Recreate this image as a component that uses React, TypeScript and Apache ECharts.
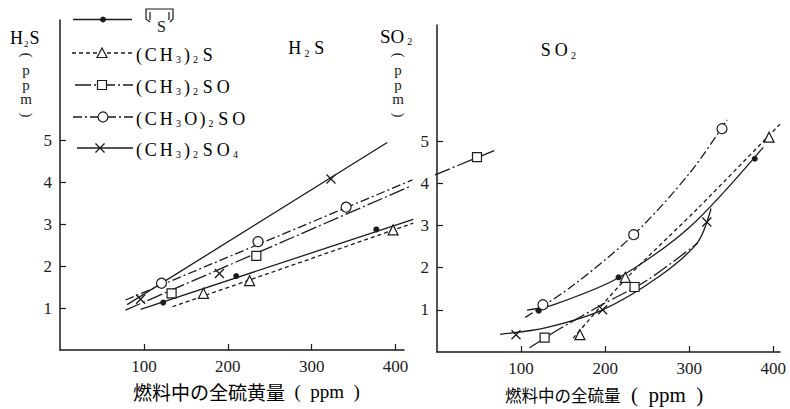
import { useEffect, useRef } from "react";
import * as echarts from "echarts";

const INK = "#1b1b1b";
const SERIF = "'Liberation Serif', 'DejaVu Serif', 'Times New Roman', serif";
const CJK = "'Noto Sans CJK JP', 'Noto Sans CJK SC', sans-serif";

// ---- tick labels / texts ----
const X_TICKS = [100, 200, 300, 400];
const Y_TICKS = [1, 2, 3, 4, 5];
const LEGEND_NAMES = ["S", "(CH_3)_2S", "(CH_3)_2SO", "(CH_3O)_2SO", "(CH_3)_2SO_4"];
const PANEL_TITLES = ["H_2S", "SO_2"];
const Y_NAMES = ["H_2S", "SO_2"];
const X_NAMES = ["燃料中の全硫黄量", "燃料中の全硫量"];
const UNIT = "ppm";

// ---- H2S panel: measured points ----
const H2S_PTS_THIOPHENE = [[123, 1.13], [210, 1.76], [377, 2.87]];
const H2S_PTS_DMS = [[171, 1.35], [226, 1.65], [397, 2.86]];
const H2S_PTS_DMSO = [[133, 1.35], [234, 2.24], [497, 4.59]];
const H2S_PTS_DMSI = [[121, 1.59], [236, 2.58], [341, 3.4]];
const H2S_PTS_DMSA = [[96, 1.21], [190, 1.82], [323, 4.07]];

// ---- H2S panel: fitted lines ----
const H2S_FIT_THIOPHENE = [[96, 0.97], [421, 3.11]];
const H2S_FIT_DMS = [[134, 1.03], [421, 3.02]];
const H2S_FIT_DMSO = [[78, 0.95], [419, 3.91]];
const H2S_FIT_DMSO_EXT = [[447, 4.17], [519, 4.76]];
const H2S_FIT_DMSI = [[78, 1.19], [420, 4.05]];
const H2S_FIT_DMSA = [[80, 1.08], [390, 4.94]];

// ---- SO2 panel: measured points ----
const SO2_PTS_THIOPHENE = [[121, 0.98], [216, 1.77], [378, 4.58]];
const SO2_PTS_DMS = [[170, 0.41], [224, 1.77], [395, 5.09]];
const SO2_PTS_DMSO = [[128, 0.34], [235, 1.54]];
const SO2_PTS_DMSI = [[126, 1.12], [234, 2.78], [339, 5.29]];
const SO2_PTS_DMSA = [[94, 0.41], [197, 1.0], [321, 3.08]];

// ---- SO2 panel: fitted curves ----
const SO2_FIT_THIOPHENE = [[107, 0.99], [140, 1.13], [216, 1.76], [300, 2.95], [388, 4.85]];
const SO2_FIT_DMS = [[162, 0.33], [224, 1.72], [310, 3.4], [408, 5.4]];
const SO2_FIT_DMSO = [[110, 0.1], [146, 0.55], [198, 1.14], [250, 1.7], [310, 2.58]];
const SO2_FIT_DMSI = [[105, 0.82], [160, 1.55], [234, 2.78], [301, 4.25], [345, 5.5]];
const SO2_FIT_DMSA = [[75, 0.42], [130, 0.58], [197, 1.0], [265, 1.8], [310, 2.6], [326, 3.4]];

const STYLES: any[] = [
  { symbol: "circle", size: 6, fill: INK, border: 0, dash: "solid" },
  { symbol: "triangle", size: 10, fill: "#fff", border: 1.2, dash: [4, 3] },
  { symbol: "rect", size: 9, fill: "#fff", border: 1.2, dash: [16, 3, 2, 3] },
  { symbol: "circle", size: 10, fill: "#fff", border: 1.2, dash: [9, 3, 2, 3] },
  { symbol: "path://M0,0L10,10M10,0L0,10", size: 9, fill: "transparent", border: 1.3, dash: "solid" },
];

const RICH_SPACED = {
  c: { fontFamily: SERIF, fontSize: 18, width: 15.5, align: "center", lineHeight: 20, color: INK },
  p: { fontFamily: SERIF, fontSize: 18, width: 8, align: "center", lineHeight: 20, color: INK },
  s: { fontFamily: SERIF, fontSize: 10, width: 9, align: "center", lineHeight: 11, verticalAlign: "bottom", color: INK },
};
const RICH_PLAIN = {
  c: { fontFamily: SERIF, fontSize: 19, lineHeight: 20, color: INK },
  p: { fontFamily: SERIF, fontSize: 19, lineHeight: 20, color: INK },
  s: { fontFamily: SERIF, fontSize: 10, lineHeight: 11, verticalAlign: "bottom", padding: [0, 2, 0, 3], color: INK },
};
const RICH_PLAIN_TIGHT = {
  c: { fontFamily: SERIF, fontSize: 18, lineHeight: 20, color: INK },
  p: { fontFamily: SERIF, fontSize: 18, lineHeight: 20, color: INK },
  s: { fontFamily: SERIF, fontSize: 9, lineHeight: 11, verticalAlign: "bottom", padding: [0, 1, 0, 1], color: INK },
};

// left panel scale: 344 px for 410 ppm; an invisible overflow grid with the same scale lets
// the H2S fits run past the axis end, as in the reference
const LEFT_PX_PER_UNIT = 344 / 410;
const OVERFLOW_WIDTH = 450;

function formula(src: string) {
  let out = "";
  for (let i = 0; i < src.length; i++) {
    const ch = src[i];
    if (ch === "_") {
      out += `{s|${src[i + 1]}}`;
      i++;
    } else if (ch === "(" || ch === ")") out += `{p|${ch}}`;
    else out += `{c|${ch}}`;
  }
  return out;
}

function lineSeries(data: number[][], idx: number, axis: number, smooth: boolean) {
  return {
    type: "line",
    xAxisIndex: axis,
    yAxisIndex: axis,
    data,
    symbol: "none",
    showSymbol: false,
    smooth: smooth ? 0.3 : false,
    clip: false,
    silent: true,
    z: 3,
    lineStyle: { color: INK, width: 1.3, type: STYLES[idx].dash },
  };
}

function pointSeries(data: number[][], idx: number, axis: number) {
  const st = STYLES[idx];
  return {
    type: "scatter",
    xAxisIndex: axis,
    yAxisIndex: axis,
    data,
    symbol: st.symbol,
    symbolSize: st.size,
    clip: false,
    silent: true,
    z: 5,
    itemStyle: { color: st.fill, borderColor: INK, borderWidth: st.border, opacity: 1 },
  };
}

function axisX(grid: number, max: number) {
  return {
    gridIndex: grid,
    type: "value",
    min: 0,
    max,
    interval: 100,
    axisLine: { show: true, onZero: false, lineStyle: { color: INK, width: 1.5 } },
    axisTick: { show: true, inside: true, length: 6, customValues: X_TICKS, lineStyle: { color: INK, width: 1.2 } },
    axisLabel: { customValues: X_TICKS, margin: 8, fontSize: 17, fontFamily: SERIF, color: INK },
    splitLine: { show: false },
  };
}

function axisY(grid: number, max: number) {
  return {
    gridIndex: grid,
    type: "value",
    min: 0,
    max,
    axisLine: { show: true, onZero: false, lineStyle: { color: INK, width: 1.5 } },
    axisTick: { show: true, inside: true, length: 6, customValues: Y_TICKS, lineStyle: { color: INK, width: 1.2 } },
    axisLabel: { customValues: Y_TICKS, margin: 8, fontSize: 17, fontFamily: SERIF, color: INK },
    splitLine: { show: false },
  };
}

function hiddenAxis(grid: number, max: number) {
  return { gridIndex: grid, type: "value", min: 0, max, show: false, splitLine: { show: false } };
}

function txt(x: number, y: number, text: string, size: number, family: string, extra: any = {}, styleExtra: any = {}) {
  return {
    type: "text",
    x,
    y,
    silent: true,
    ...extra,
    style: { text, x: 0, y: 0, fontSize: size, fontFamily: family, fill: INK, align: "center", verticalAlign: "middle", ...styleExtra },
  };
}

function verticalUnit(cx: number) {
  return [
    txt(cx, 55, "(", 14, SERIF, { rotation: -Math.PI / 2 }),
    txt(cx, 84.5, UNIT.split("").join("\n"), 15, SERIF, {}, { lineHeight: 14.5 }),
    txt(cx, 115, ")", 14, SERIF, { rotation: -Math.PI / 2 }),
  ];
}

function legendGraphics() {
  const rows = [19.5, 53, 85, 117, 148];
  const lx = [[73, 132], [72, 133], [75, 133], [73, 133], [77, 133]];
  const sx = [103, 102, 102, 103, 100];
  const els: any[] = [];
  rows.forEach((y, i) => {
    const st = STYLES[i];
    els.push({
      type: "line",
      silent: true,
      z: 10,
      shape: { x1: lx[i][0], y1: y, x2: lx[i][1], y2: y },
      style: { stroke: INK, lineWidth: 1.3, lineDash: st.dash === "solid" ? null : st.dash },
    });
    const x = sx[i];
    if (i === 0) els.push({ type: "circle", z: 11, silent: true, shape: { cx: x, cy: y, r: 3 }, style: { fill: INK } });
    if (i === 1)
      els.push({ type: "polygon", z: 11, silent: true, shape: { points: [[x, y - 5], [x - 5, y + 4.5], [x + 5, y + 4.5]] }, style: { fill: "#fff", stroke: INK, lineWidth: 1.2 } });
    if (i === 2)
      els.push({ type: "rect", z: 11, silent: true, shape: { x: x - 4.5, y: y - 4.5, width: 9, height: 9 }, style: { fill: "#fff", stroke: INK, lineWidth: 1.2 } });
    if (i === 3) els.push({ type: "circle", z: 11, silent: true, shape: { cx: x, cy: y, r: 5 }, style: { fill: "#fff", stroke: INK, lineWidth: 1.2 } });
    if (i === 4) {
      els.push({ type: "line", z: 11, silent: true, shape: { x1: x - 4.5, y1: y - 4.5, x2: x + 4.5, y2: y + 4.5 }, style: { stroke: INK, lineWidth: 1.3 } });
      els.push({ type: "line", z: 11, silent: true, shape: { x1: x + 4.5, y1: y - 4.5, x2: x - 4.5, y2: y + 4.5 }, style: { stroke: INK, lineWidth: 1.3 } });
    }
    if (i > 0) {
      els.push({
        type: "text",
        z: 11,
        silent: true,
        x: 135,
        y: y + 1.5,
        style: { text: formula(LEGEND_NAMES[i]), rich: RICH_SPACED, align: "left", verticalAlign: "middle" },
      });
    }
  });
  // thiophene ring symbol
  els.push({
    type: "polyline",
    silent: true,
    z: 11,
    shape: { points: [[150, 22], [146, 19], [146, 9], [173, 9], [173, 19], [170, 22]] },
    style: { stroke: INK, lineWidth: 1.2, fill: null },
  });
  els.push({ type: "line", silent: true, z: 11, shape: { x1: 150, y1: 12, x2: 150, y2: 20 }, style: { stroke: INK, lineWidth: 1.2 } });
  els.push({ type: "line", silent: true, z: 11, shape: { x1: 169, y1: 12, x2: 169, y2: 20 }, style: { stroke: INK, lineWidth: 1.2 } });
  els.push(txt(161.5, 26, LEGEND_NAMES[0], 16, SERIF, { z: 11 }));
  return els;
}

function buildOption() {
  const graphic: any[] = [
    // y-axis names
    { type: "text", x: 10, y: 38, silent: true, style: { text: formula(Y_NAMES[0]), rich: RICH_PLAIN_TIGHT, align: "left", verticalAlign: "middle" } },
    { type: "text", x: 380, y: 36, silent: true, style: { text: formula(Y_NAMES[1]), rich: RICH_PLAIN, align: "left", verticalAlign: "middle" } },
    ...verticalUnit(26),
    ...verticalUnit(398),
    // panel titles
    { type: "text", x: 287, y: 48, silent: true, style: { text: formula(PANEL_TITLES[0]), rich: RICH_SPACED, align: "left", verticalAlign: "middle" } },
    { type: "text", x: 538, y: 50, silent: true, style: { text: formula(PANEL_TITLES[1]), rich: RICH_SPACED, align: "left", verticalAlign: "middle" } },
    // x-axis names
    {
      type: "text",
      x: 133,
      y: 391,
      silent: true,
      style: {
        text: `{j|${X_NAMES[0]}}{l|  (  ${UNIT}  )}`,
        align: "left",
        verticalAlign: "middle",
        rich: { j: { fontFamily: CJK, fontSize: 19, color: INK }, l: { fontFamily: SERIF, fontSize: 19, color: INK } },
      },
    },
    {
      type: "text",
      x: 505,
      y: 395,
      silent: true,
      style: {
        text: `{j|${X_NAMES[1]}}{l|  (  ${UNIT}  )}`,
        align: "left",
        verticalAlign: "middle",
        rich: { j: { fontFamily: CJK, fontSize: 16.5, color: INK }, l: { fontFamily: SERIF, fontSize: 21, color: INK } },
      },
    },
    ...legendGraphics(),
  ];

  const h2sFits = [H2S_FIT_THIOPHENE, H2S_FIT_DMS, H2S_FIT_DMSO, H2S_FIT_DMSI, H2S_FIT_DMSA];
  const h2sPts = [H2S_PTS_THIOPHENE, H2S_PTS_DMS, H2S_PTS_DMSO, H2S_PTS_DMSI, H2S_PTS_DMSA];
  const so2Fits = [SO2_FIT_THIOPHENE, SO2_FIT_DMS, SO2_FIT_DMSO, SO2_FIT_DMSI, SO2_FIT_DMSA];
  const so2Pts = [SO2_PTS_THIOPHENE, SO2_PTS_DMS, SO2_PTS_DMSO, SO2_PTS_DMSI, SO2_PTS_DMSA];

  const series: any[] = [];
  h2sFits.forEach((d, i) => series.push(lineSeries(d, i, 2, false)));
  series.push(lineSeries(H2S_FIT_DMSO_EXT, 2, 2, false));
  so2Fits.forEach((d, i) => series.push(lineSeries(d, i, 1, true)));
  h2sPts.forEach((d, i) => series.push(pointSeries(d, i, 2)));
  so2Pts.forEach((d, i) => series.push(pointSeries(d, i, 1)));

  return {
    animation: false,
    backgroundColor: "#fff",
    grid: [
      { left: 60, top: 20, width: 344, height: 330 },
      { left: 437, top: 25, width: 343, height: 327 },
      { left: 60, top: 20, width: OVERFLOW_WIDTH, height: 330 },
    ],
    xAxis: [axisX(0, 410), axisX(1, 408), hiddenAxis(2, OVERFLOW_WIDTH / LEFT_PX_PER_UNIT)],
    yAxis: [axisY(0, 330 / 42), axisY(1, 327 / 42.2), hiddenAxis(2, 330 / 42)],
    series,
    graphic,
  };
}

export default function App() {
  const ref = useRef<HTMLDivElement>(null);
  useEffect(() => {
    const chart = echarts.init(ref.current as HTMLDivElement, null, { renderer: "svg" });
    chart.setOption(buildOption() as any);
    return () => chart.dispose();
  }, []);
  return (
    <div
      ref={ref}
      style={{ position: "fixed", left: 0, top: 0, width: 790, height: 409, background: "#fff" }}
    />
  );
}
